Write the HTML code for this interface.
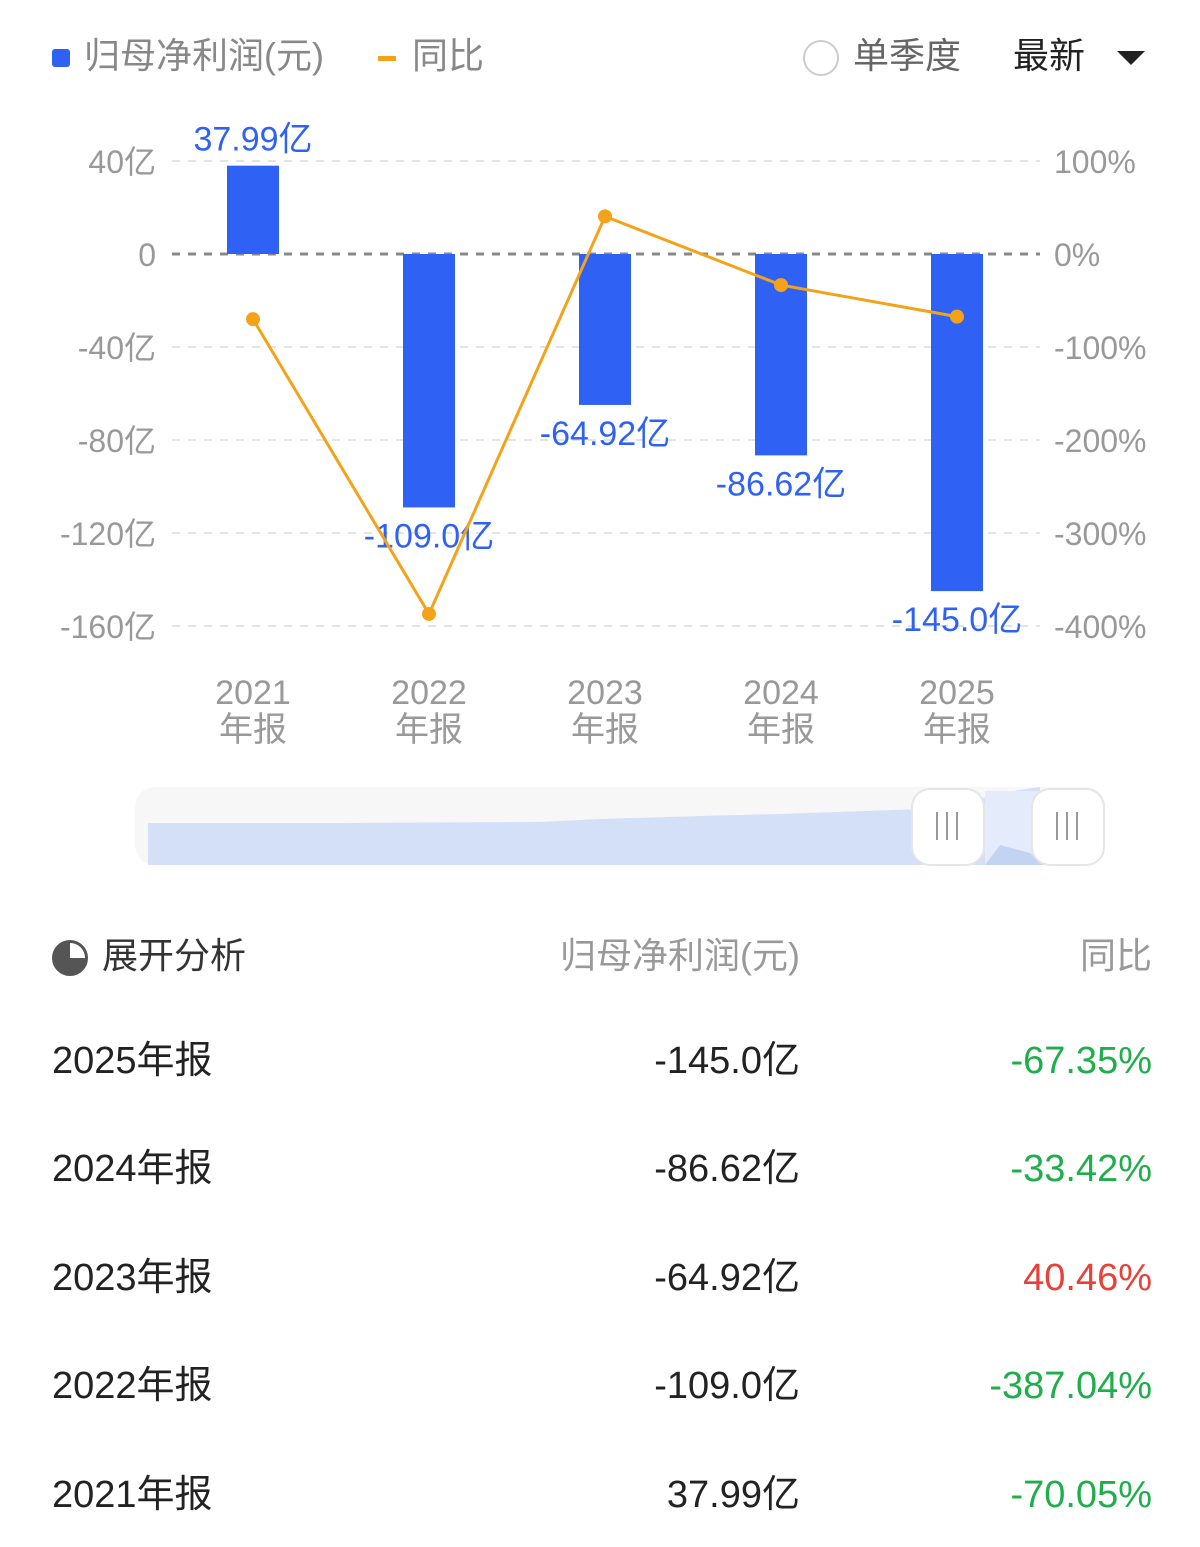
<!DOCTYPE html>
<html><head><meta charset="utf-8">
<style>
body{margin:0;width:1200px;height:1547px;background:#fff;font-family:"Liberation Sans","Noto Sans CJK SC",sans-serif;overflow:hidden;position:relative}
.t{position:absolute;white-space:nowrap}
.row{position:absolute;left:52px;right:48px;height:50px;line-height:50px;font-size:38px;color:#222}
.row span{line-height:50px;top:0}
.row .a{position:absolute;left:0}
.row .b{position:absolute;right:352px}
.row .c{position:absolute;right:0}
</style></head><body>
<div class="t" style="left:52px;top:27px;font-size:36px;color:#888"><span style="display:inline-block;width:18px;height:18px;background:#2f62f4;border-radius:3px;vertical-align:middle;margin-right:14px"></span>归母净利润(元)</div>
<div class="t" style="left:378px;top:27px;font-size:36px;color:#888"><span style="display:inline-block;width:18px;height:5px;background:#f5a21b;vertical-align:middle;margin-right:16px"></span>同比</div>
<div class="t" style="left:803px;top:27px;font-size:36px;color:#666"><span style="display:inline-block;width:36px;height:36px;border:2px solid #ccc;border-radius:50%;vertical-align:middle;margin-right:14px;box-sizing:border-box"></span>单季度</div>
<div class="t" style="left:1013px;top:27px;font-size:36px;color:#222">最新 <span style="display:inline-block;width:0;height:0;border-left:14px solid transparent;border-right:14px solid transparent;border-top:14px solid #222;vertical-align:middle;margin-left:22px"></span></div>

<svg id="chart" width="1200" height="760" style="position:absolute;left:0;top:0" font-family="Liberation Sans, Noto Sans CJK SC, sans-serif"></svg>

<svg width="1200" height="110" style="position:absolute;left:0;top:775px">
<rect x="135" y="12" width="970" height="78" rx="20" fill="#f7f7f7"/>
<path d="M148 48 L340 48 L540 47 L600 44 L700 41 L780 39 L950 33 L1000 18 L1040 12 L1040 90 L148 90Z" fill="#d3e0f7"/>
<rect x="985" y="16" width="105" height="73" fill="#e4ecfb"/>
<path d="M985 90 L1000 70 L1030 78 L1045 90Z" fill="#c3d4f3"/>
<rect x="912" y="14" width="72" height="76" rx="18" fill="#fff" stroke="#e5e5e5" stroke-width="2"/>
<rect x="1032" y="14" width="72" height="76" rx="18" fill="#fff" stroke="#e5e5e5" stroke-width="2"/>
<g stroke="#999" stroke-width="2"><line x1="937" y1="37" x2="937" y2="65"/><line x1="947" y1="37" x2="947" y2="65"/><line x1="957" y1="37" x2="957" y2="65"/><line x1="1057" y1="37" x2="1057" y2="65"/><line x1="1067" y1="37" x2="1067" y2="65"/><line x1="1077" y1="37" x2="1077" y2="65"/></g>
</svg>

<div class="t" style="left:52px;top:927px;font-size:36px;color:#333"><span style="display:inline-block;width:36px;height:36px;border:3px solid #555;border-radius:50%;vertical-align:middle;margin-right:14px;box-sizing:border-box;background:conic-gradient(#fff 0 25%,#555 25% 100%)"></span>展开分析</div>
<div class="t" style="right:400px;top:927px;font-size:36px;color:#999">归母净利润(元)</div>
<div class="t" style="right:48px;top:927px;font-size:36px;color:#999">同比</div>

<div class="row" style="top:1036px"><span class="a">2025年报</span><span class="b">-145.0亿</span><span class="c" style="color:#1fae4b">-67.35%</span></div>
<div class="row" style="top:1144px"><span class="a">2024年报</span><span class="b">-86.62亿</span><span class="c" style="color:#1fae4b">-33.42%</span></div>
<div class="row" style="top:1253px"><span class="a">2023年报</span><span class="b">-64.92亿</span><span class="c" style="color:#e8413a">40.46%</span></div>
<div class="row" style="top:1361px"><span class="a">2022年报</span><span class="b">-109.0亿</span><span class="c" style="color:#1fae4b">-387.04%</span></div>
<div class="row" style="top:1470px"><span class="a">2021年报</span><span class="b">37.99亿</span><span class="c" style="color:#1fae4b">-70.05%</span></div>

<script>
const categories=["2021","2022","2023","2024","2025"];
const profit=[37.99,-109.0,-64.92,-86.62,-145.0];
const profitLabels=["37.99亿","-109.0亿","-64.92亿","-86.62亿","-145.0亿"];
const yoy=[-70.05,-387.04,40.46,-33.42,-67.35];
const leftTicks=[40,0,-40,-80,-120,-160];
const leftTickLabels=["40亿","0","-40亿","-80亿","-120亿","-160亿"];
const rightTicks=[100,0,-100,-200,-300,-400];
const rightTickLabels=["100%","0%","-100%","-200%","-300%","-400%"];

const svg=document.getElementById('chart');
const NS="http://www.w3.org/2000/svg";
const yL=v=>254-v*(93/40);
const yR=v=>254-v*0.93;
const xC=i=>253+i*176;
function mk(tag,attrs,text){const e=document.createElementNS(NS,tag);for(const k in attrs)e.setAttribute(k,attrs[k]);if(text!==undefined)e.textContent=text;svg.appendChild(e);return e;}

leftTicks.forEach((v,i)=>{
  const g=mk('line',{x1:172,x2:1040,y1:yL(v),y2:yL(v),stroke:v===0?'#888':'#e3e3e3','stroke-width':v===0?3:2,'stroke-dasharray':'8 8'});
  
  
  const t=mk('text',{x:156,y:yL(v)+12,'text-anchor':'end','font-size':32,fill:'#999'},leftTickLabels[i]);
  
  
});
rightTicks.forEach((v,i)=>{
  const t=mk('text',{x:1054,y:yR(v)+12,'font-size':32,fill:'#999'},rightTickLabels[i]);
  
  
});
categories.forEach((c,i)=>{
  const v=profit[i];
  const y0=yL(0),y1=yL(v);
  const r=mk('rect',{x:xC(i)-26,y:Math.min(y0,y1),width:52,height:Math.abs(y1-y0),fill:'#2f62f4'});
  
  
  const ly=v>=0?y1-15:y1+40;
  const l=mk('text',{x:xC(i),y:ly,'text-anchor':'middle','font-size':34,fill:'#2f62f4'},profitLabels[i]);
  
  
  const a=mk('text',{x:xC(i),y:704,'text-anchor':'middle','font-size':34,fill:'#999'},c);
  
  
  const b=mk('text',{x:xC(i),y:741,'text-anchor':'middle','font-size':34,fill:'#999'},'年报');
  
  
});
const pl=mk('polyline',{points:yoy.map((v,i)=>xC(i)+','+yR(v)).join(' '),fill:'none',stroke:'#f5a21b','stroke-width':3});


yoy.forEach((v,i)=>{
  const c=mk('circle',{cx:xC(i),cy:yR(v),r:7,fill:'#f5a21b'});
  
  
});
</script>
</body></html>
